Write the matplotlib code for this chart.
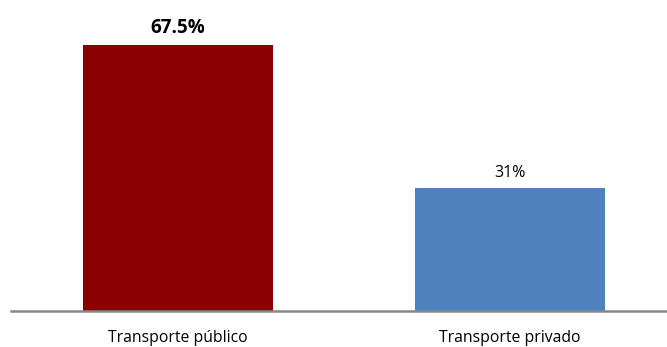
import matplotlib
matplotlib.use("Agg")
import matplotlib.pyplot as plt

categories = ["Transporte público", "Transporte privado"]
values = [67.5, 31]
value_labels = ["67.5%", "31%"]
colors = ["#8B0000", "#4F81BD"]
label_weights = ["bold", "normal"]

plt.rcParams["font.family"] = ["Open Sans", "DejaVu Sans"]

fig = plt.figure(figsize=(6.67, 3.47), dpi=100)
ax = fig.add_axes([11 / 667, 36.5 / 347, 656 / 667, 310.5 / 347])

x = list(range(len(categories)))
bars = ax.bar(x, values, width=0.575, color=colors, zorder=2)

ax.set_xlim(-0.503, 1.473)
ax.set_ylim(0, 78.8)

for rect, lab, w in zip(bars, value_labels, label_weights):
    ax.annotate(lab, (rect.get_x() + rect.get_width() / 2, rect.get_height()),
                xytext=(0, 5), textcoords="offset points", ha="center", va="bottom",
                fontsize=13.5 if w == "bold" else 11.5, fontweight=w, color="#000000")

for xi, cat in zip(x, categories):
    ax.annotate(cat, (xi, 0), xytext=(0, -19.5), textcoords="offset points",
                ha="center", va="center", fontsize=11.3, color="#000000",
                annotation_clip=False)

for s in ["top", "right", "left"]:
    ax.spines[s].set_visible(False)
ax.spines["bottom"].set_color("#888888")
ax.spines["bottom"].set_linewidth(1.8)
ax.set_xticks([])
ax.set_yticks([])
ax.patch.set_alpha(0)

fig.savefig("out.png", dpi=100)
